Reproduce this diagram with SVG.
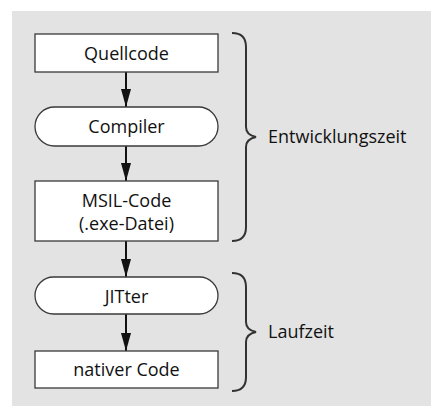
<svg xmlns="http://www.w3.org/2000/svg" width="431" height="406" viewBox="0 0 431 406">
  <style>
    .node { fill: #ffffff; stroke: #3a3a3a; stroke-width: 1.3; }
    .label { font-family: "Open Sans", "Noto Sans", "Liberation Sans", sans-serif; font-size: 18px; fill: #111111; text-anchor: middle; }
    .side { font-family: "Open Sans", "Noto Sans", "Liberation Sans", sans-serif; font-size: 18px; fill: #111111; }
    .edge { stroke: #111111; stroke-width: 2; fill: none; }
    .brace { stroke: #333333; stroke-width: 2; fill: none; }
  </style>
  <defs>
    <marker id="arrow" markerUnits="userSpaceOnUse" markerWidth="18" markerHeight="10" refX="18" refY="5" viewBox="0 0 18 10" orient="auto">
      <path d="M0,0 L18,5 L0,10 Z" fill="#111111"/>
    </marker>
  </defs>
  <rect x="12" y="11" width="419" height="395" fill="#e3e3e3"/>

  <g id="connectors">
    <line class="edge" x1="126" y1="72" x2="126" y2="107" marker-end="url(#arrow)"/>
    <line class="edge" x1="126" y1="146" x2="126" y2="181" marker-end="url(#arrow)"/>
    <line class="edge" x1="126" y1="241" x2="126" y2="277" marker-end="url(#arrow)"/>
    <line class="edge" x1="126" y1="314" x2="126" y2="351" marker-end="url(#arrow)"/>
  </g>

  <g id="quellcode">
    <rect class="node" x="35" y="34" width="183" height="38"/>
    <text class="label" x="126.5" y="59.5">Quellcode</text>
  </g>
  <g id="compiler">
    <rect class="node" x="35" y="107" width="183" height="39" rx="19.5" ry="19.5"/>
    <text class="label" x="126.5" y="133">Compiler</text>
  </g>
  <g id="msil">
    <rect class="node" x="35" y="181" width="183" height="60"/>
    <text class="label" x="126.5" y="207">MSIL-Code</text>
    <text class="label" x="126.5" y="230">(.exe-Datei)</text>
  </g>
  <g id="jitter">
    <rect class="node" x="35" y="277" width="183" height="37" rx="18.5" ry="18.5"/>
    <text class="label" x="126.5" y="302.5">JITter</text>
  </g>
  <g id="nativ">
    <rect class="node" x="35" y="351" width="183" height="37"/>
    <text class="label" x="126.5" y="375.5">nativer Code</text>
  </g>

  <g id="entwicklungszeit">
    <path class="brace" d="M232,33 Q246,33 246,47 L246,127 Q246,135 256,137 Q246,139 246,147 L246,227 Q246,241 232,241"/>
    <text class="side" x="268" y="143">Entwicklungszeit</text>
  </g>
  <g id="laufzeit">
    <path class="brace" d="M232,273 Q246,273 246,287 L246,322 Q246,330 256,332 Q246,334 246,342 L246,377 Q246,391 232,391"/>
    <text class="side" x="268" y="338">Laufzeit</text>
  </g>
</svg>
